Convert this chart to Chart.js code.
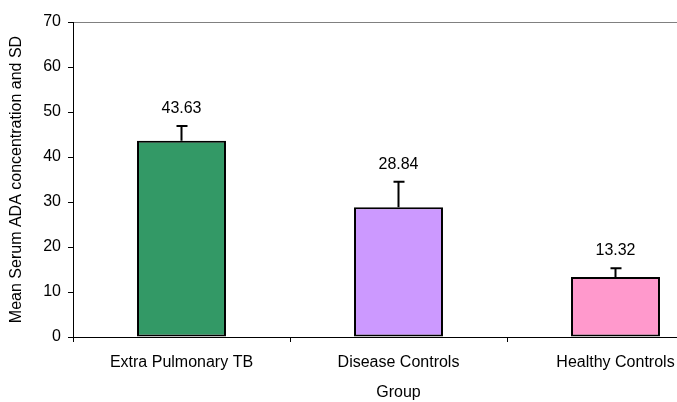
<!DOCTYPE html>
<html>
<head>
<meta charset="utf-8">
<script src="https://cdn.jsdelivr.net/npm/chart.js@4.4.1/dist/chart.umd.min.js"></script>
<style>
  html, body { margin: 0; padding: 0; background: #fff; overflow: hidden; }
  #wrap { width: 724px; height: 402px; }
</style>
</head>
<body>
<div id="wrap"><canvas id="grafico" width="724" height="402"></canvas></div>
<script>
// dados
const grupos = ['Extra Pulmonary TB', 'Disease Controls', 'Healthy Controls'];
const medias = [43.63, 28.84, 13.32];
const desvios = [3.27, 5.66, 1.98];
const cores = ['#339966', '#CC99FF', '#FF99CC'];

const FONTE = "'Liberation Sans', Arial, sans-serif";

// barras de erro (só para cima) + rótulo do valor
const errosPlugin = {
  id: 'erros',
  afterDatasetsDraw(chart) {
    const ctx = chart.ctx;
    const y = chart.scales.y;
    const meta = chart.getDatasetMeta(0);
    ctx.save();
    meta.data.forEach((bar, i) => {
      const topo = y.getPixelForValue(medias[i] + desvios[i]);
      ctx.strokeStyle = '#000';
      ctx.lineWidth = 2;
      ctx.beginPath();
      ctx.moveTo(bar.x, bar.y);
      ctx.lineTo(bar.x, topo);
      ctx.moveTo(bar.x - 5, topo);
      ctx.lineTo(bar.x + 6, topo);
      ctx.stroke();
      ctx.fillStyle = '#000';
      ctx.font = '16px ' + FONTE;
      ctx.textAlign = 'center';
      ctx.textBaseline = 'alphabetic';
      ctx.fillText(medias[i].toFixed(2), bar.x, topo - 13);
    });
    ctx.restore();
  }
};

new Chart(document.getElementById('grafico'), {
  type: 'bar',
  data: {
    labels: grupos,
    datasets: [{
      data: medias,
      backgroundColor: cores,
      borderColor: '#000',
      borderWidth: 2,
      borderSkipped: false,
      categoryPercentage: 1,
      barPercentage: 0.41,
    }],
  },
  options: {
    responsive: false,
    animation: false,
    layout: { padding: { top: 22, right: 0, left: 0, bottom: 0 } },
    plugins: {
      legend: { display: false },
      tooltip: { enabled: false },
    },
    scales: {
      x: {
        grid: { offset: true, drawOnChartArea: false, tickLength: 5, tickColor: '#000' },
        border: { color: '#000', width: 1 },
        ticks: { color: '#000', padding: 11, font: { family: FONTE, size: 16 } },
        title: { display: true, text: 'Group', color: '#000', font: { family: FONTE, size: 16 }, padding: { top: 4, bottom: 0 } },
        afterFit: (s) => { s.height = 65; },
      },
      y: {
        min: 0,
        max: 70,
        ticks: { stepSize: 10, color: '#000', padding: 7, font: { family: FONTE, size: 16 } },
        grid: {
          tickLength: 5,
          tickColor: '#000',
          color: (c) => c.tick && c.tick.value === 70 ? '#808080' : 'rgba(0,0,0,0)',
        },
        border: { color: '#000', width: 1 },
        title: { display: true, text: 'Mean Serum ADA concentration and SD', color: '#000', font: { family: FONTE, size: 16 }, padding: { top: 7, bottom: 4 } },
        afterFit: (s) => { s.width = 73; },
      },
    },
  },
  plugins: [errosPlugin],
});
</script>
</body>
</html>
